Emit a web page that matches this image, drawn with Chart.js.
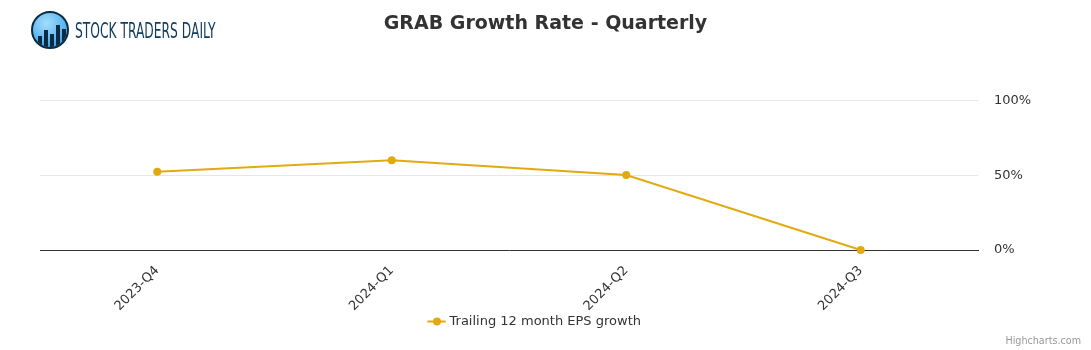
<!DOCTYPE html>
<html>
<head>
<meta charset="utf-8">
<script src="https://cdn.jsdelivr.net/npm/chart.js@4"></script>
<style>
  html, body { margin: 0; padding: 0; background: #fff; }
  #wrap { position: relative; width: 1091px; height: 350px; overflow: hidden; }
  canvas { position: absolute; left: 0; top: 0; }
  #logo { position: absolute; left: 31px; top: 11px; height: 38px; display: flex; align-items: center; }
  #logo .circ { width: 34px; height: 34px; border-radius: 50%; border: 2px solid #0b2b45;
    background: radial-gradient(circle at 40% 30%, #a6dcfb 0%, #5bb8f0 55%, #2a86c8 100%);
    position: relative; overflow: hidden; box-sizing: content-box; }
  #logo .circ i { position: absolute; bottom: 0; width: 4px; background: #0b2b45; }
  #logo .txt { margin-left: 6px; margin-top: 2px; font-family: "Liberation Sans Narrow", "DejaVu Sans Condensed", sans-serif;
    font-size: 21px; color: #0d3b5e; transform: scaleX(0.65); transform-origin: left center;
    white-space: nowrap; }
  #credit { position: absolute; right: 10px; top: 335px; font-family: "DejaVu Sans", sans-serif; font-size: 9.6px; color: #999; }
</style>
</head>
<body>
<div id="wrap">
  <canvas id="c" width="1091" height="350"></canvas>
  <div id="logo">
    <div class="circ">
      <i style="left:5px;height:11px"></i>
      <i style="left:11px;height:17px"></i>
      <i style="left:17px;height:13px"></i>
      <i style="left:23px;height:22px"></i>
      <i style="left:29px;height:18px"></i>
    </div>
    <div class="txt">STOCK TRADERS DAILY</div>
  </div>
  <div id="credit">Highcharts.com</div>
</div>
<script>
const chartTitle = "GRAB Growth Rate - Quarterly";
const categories = ["2023-Q4", "2024-Q1", "2024-Q2", "2024-Q3"];
const seriesName = "Trailing 12 month EPS growth";
const epsGrowth = [52.4, 60.2, 50.2, 0];
const yTicks = [0, 50, 100];

const lineColor = "#e2aa11";
const font = "'DejaVu Sans', sans-serif";

new Chart(document.getElementById("c"), {
  type: "line",
  data: {
    labels: categories,
    datasets: [{
      label: seriesName,
      data: epsGrowth,
      yAxisID: "y",
      xAxisID: "x",
      borderColor: lineColor,
      backgroundColor: lineColor,
      borderWidth: 2,
      pointRadius: 4,
      pointHoverRadius: 4,
      pointBorderWidth: 0,
      tension: 0,
      clip: false
    }]
  },
  options: {
    responsive: false,
    animation: false,
    layout: { padding: { left: 0, right: 0, top: 0, bottom: 12 } },
    plugins: {
      tooltip: { enabled: false },
      title: {
        display: true,
        text: chartTitle,
        color: "#333333",
        font: { family: font, size: 19, weight: "bold" },
        padding: { top: 13, bottom: 65 }
      },
      legend: {
        display: true,
        position: "bottom",
        labels: {
          usePointStyle: true,
          pointStyle: "line",
          color: "#333333",
          font: { family: font, size: 13 },
          boxWidth: 14,
          padding: 2,
          generateLabels(chart) {
            const ds = chart.data.datasets[0];
            return [{ text: ds.label, fillStyle: lineColor, strokeStyle: lineColor, lineWidth: 2,
              pointStyle: "line", datasetIndex: 0, fontColor: "#333333" }];
          }
        }
      }
    },
    scales: {
      x: {
        offset: true,
        grid: { display: false, drawTicks: false },
        border: { display: true, color: "#333333", width: 1 },
        ticks: {
          color: "#333333", font: { family: font, size: 13 },
          minRotation: 45, maxRotation: 45, padding: 13, autoSkip: false
        },
        afterFit(scale) { scale.height = 63; }
      },
      yl: {
        position: "left",
        display: true,
        grid: { display: false, drawTicks: false },
        border: { display: false },
        ticks: { display: false },
        afterFit(scale) { scale.width = 40; }
      },
      y: {
        position: "right",
        min: 0, max: 100,
        afterBuildTicks(scale) { scale.ticks = yTicks.map(v => ({ value: v })); },
        grid: {
          color: ctx => (ctx.tick && ctx.tick.value === 0) ? "rgba(0,0,0,0)" : "#e6e6e6",
          drawTicks: false, lineWidth: 1
        },
        border: { display: false },
        ticks: {
          color: "#333333", font: { family: font, size: 13 }, padding: 16,
          callback: v => v + "%"
        },
        afterFit(scale) { scale.width = 113; }
      }
    }
  },
  plugins: [{
    id: "legendShift",
    afterLayout(chart) {
      if (chart.legend) { chart.legend.left -= 20; }
    }
  }, {
    id: "legendDot",
    afterDraw(chart) {
      const lg = chart.legend;
      if (!lg || !lg.legendHitBoxes || !lg.legendHitBoxes.length) return;
      const hb = lg.legendHitBoxes[0];
      const ctx = chart.ctx;
      ctx.save();
      ctx.fillStyle = lineColor;
      ctx.beginPath();
      ctx.arc(hb.left + 7, hb.top + hb.height / 2, 4, 0, Math.PI * 2);
      ctx.fill();
      ctx.restore();
    }
  }]
});
</script>
</body>
</html>
